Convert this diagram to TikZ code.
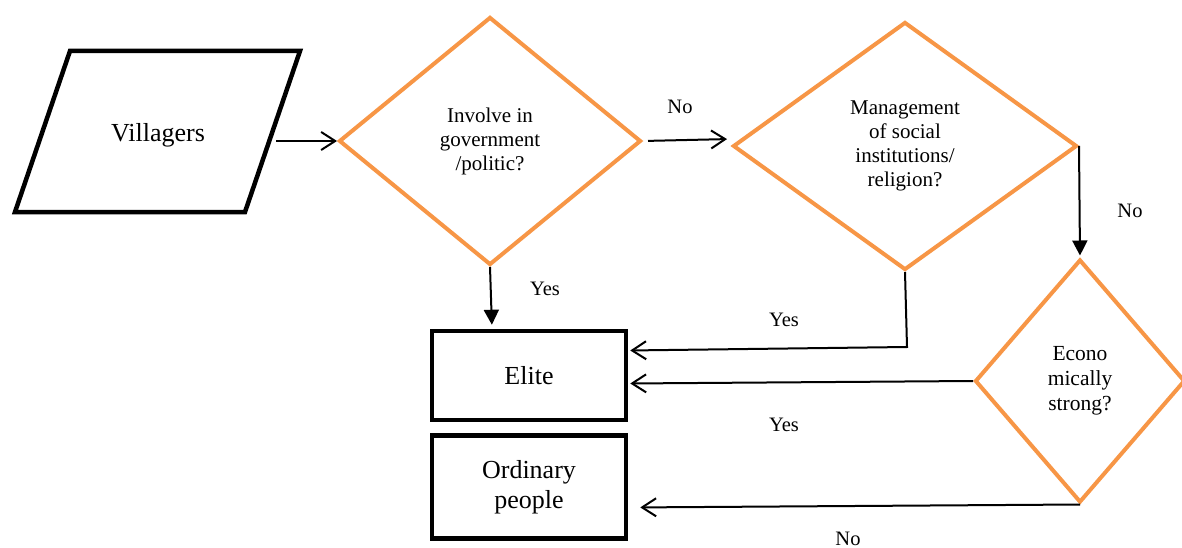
\documentclass[tikz,border=0pt]{standalone}
\usepackage{fontspec}
\setmainfont{Liberation Serif}
\usetikzlibrary{shapes.geometric,arrows.meta,calc}
\definecolor{dorange}{HTML}{F79646}
\tikzset{
  dec/.style={draw=dorange, line width=4pt, shape=diamond, inner sep=0pt, align=center, font=\fontsize{21}{24}\selectfont},
  boxnode/.style={draw=black, line width=4.5pt, rectangle, inner sep=0pt, align=center, font=\fontsize{26}{30}\selectfont},
  openarr/.style={line width=2pt, -{Straight Barb[length=14pt,width=18pt,line width=2pt]}},
  filledarr/.style={line width=2pt, -{Triangle[length=15pt,width=15pt]}},
  lbl/.style={font=\fontsize{20.5}{22}\selectfont, inner sep=0pt}
}
\begin{document}
\begin{tikzpicture}[x=1pt,y=-1pt]
\useasboundingbox (0,0) rectangle (1182,548);
% parallelogram
\coordinate (p1) at (70,51);
\coordinate (p2) at (300,51);
\coordinate (p3) at (245,212);
\coordinate (p4) at (15,212);
\draw[line width=4.5pt, line join=miter] (p1) -- (p2) -- (p3) -- (p4) -- cycle;
\node[font=\fontsize{26}{30}\selectfont] (vil) at (158,135) {Villagers};
\coordinate (vilout) at (276,141);
% decisions
\node[dec, minimum width=302pt, minimum height=248pt] (d1) at (490,141) {Involve in\\government\\/politic?};
\node[dec, minimum width=344pt, minimum height=248pt] (d2) at (905,146) {Management\\of social\\institutions/\\religion?};
\node[dec, minimum width=210pt, minimum height=243pt, font=\fontsize{21.5}{25}\selectfont] (d3) at (1080,381) {Econo\\mically\\strong?};
% boxes
\node[boxnode, minimum width=194pt, minimum height=89pt] (elite) at (529,375.5) {Elite};
\node[boxnode, minimum width=194pt, minimum height=103pt] (ord) at (529,487) {Ordinary\\people};
% connectors
\draw[openarr] (vilout) -- (d1.west);
\draw[openarr, shorten <=5pt, shorten >=4pt] (d1.east) -- ($(d2.west)+(0,-7)$);
\draw[filledarr, shorten >=4pt] (d1.south) -- ($(elite.north)+(-37,0)$);
\draw[openarr, shorten >=2pt] (d2.south) -- ($(d2.south)+(2,75)$) -- ($(elite.east)+(0,-25)$);
\draw[filledarr, shorten >=2pt] (d2.east) -- (d3.north);
\draw[openarr, shorten >=2pt] (d3.west) -- ($(elite.east)+(0,8)$);
\draw[openarr, shorten >=12pt] (d3.south) -- ($(ord.east)+(0,20.5)$);
% labels
\node[lbl] (l1) at (680,107) {No};
\node[lbl] (l2) at (545,289) {Yes};
\node[lbl] (l3) at (784,320) {Yes};
\node[lbl] (l4) at (1130,211) {No};
\node[lbl] (l5) at (784,425) {Yes};
\node[lbl] (l6) at (848,538.5) {No};
\end{tikzpicture}
\end{document}
